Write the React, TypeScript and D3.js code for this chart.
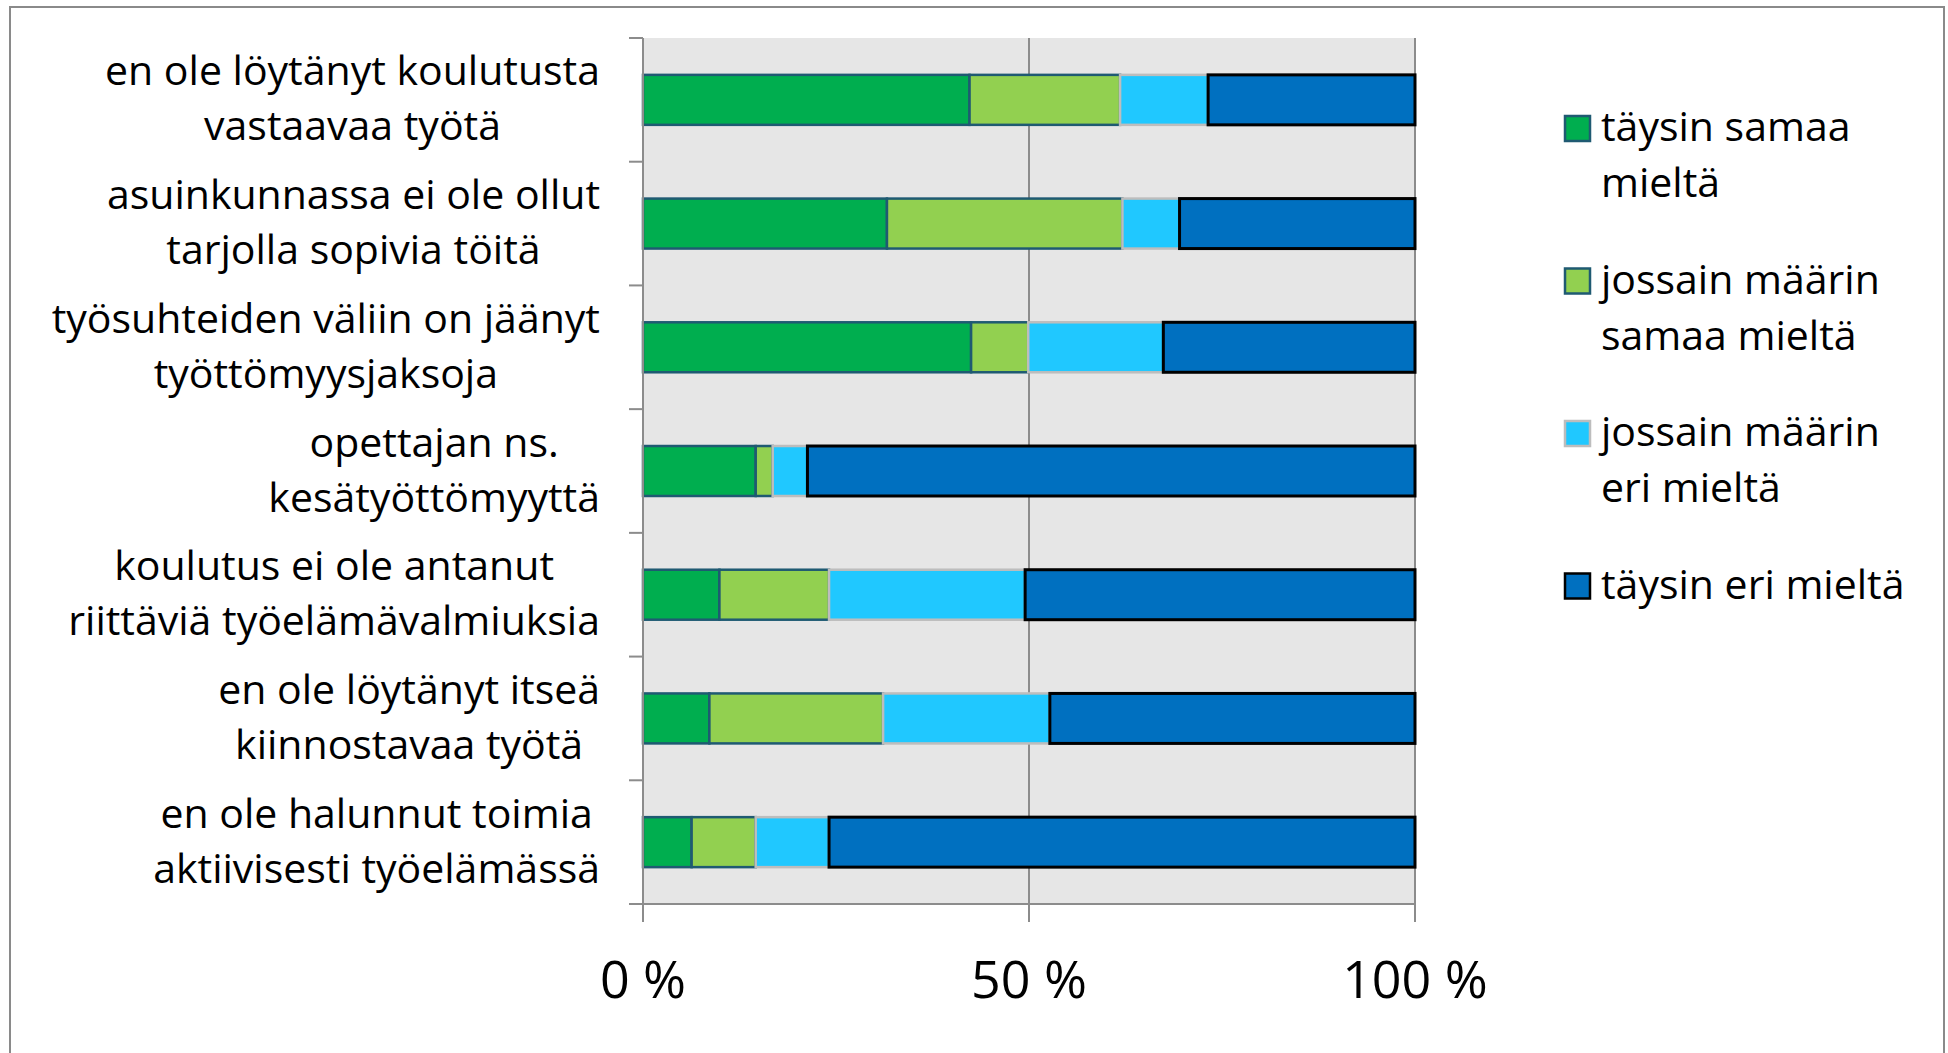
import React, { useEffect, useRef } from 'react';
import * as d3 from 'd3';

// categories, top to bottom (each label split into its two lines)
const categories = [
  ['en ole löytänyt koulutusta', 'vastaavaa työtä'],
  ['asuinkunnassa ei ole ollut', 'tarjolla sopivia töitä'],
  ['työsuhteiden väliin on jäänyt', 'työttömyysjaksoja'],
  ['opettajan ns.', 'kesätyöttömyyttä'],
  ['koulutus ei ole antanut', 'riittäviä työelämävalmiuksia'],
  ['en ole löytänyt itseä', 'kiinnostavaa työtä'],
  ['en ole halunnut toimia', 'aktiivisesti työelämässä'],
];

const seriesNames = [
  ['täysin samaa', 'mieltä'],
  ['jossain määrin', 'samaa mieltä'],
  ['jossain määrin', 'eri mieltä'],
  ['täysin eri mieltä'],
];

// percent shares per category
const taysinSamaa = [42.3, 31.6, 42.5, 14.6, 9.9, 8.6, 6.3];
const jossainSamaa = [19.5, 30.5, 7.4, 2.2, 14.2, 22.5, 8.3];
const jossainEri = [11.4, 7.4, 17.5, 4.5, 25.4, 21.6, 9.5];
const taysinEri = [26.8, 30.5, 32.6, 78.7, 50.5, 47.3, 75.9];

const xTicks = [0, 50, 100];

const fills = ['#00AE4F', '#92D050', '#20C8FF', '#0070C0'];
const strokes = ['#1F5A72', '#1F5A72', '#BDBDBD', '#000000'];
const strokeW = [2.5, 2.5, 2.5, 3];

const FONT = '"Open Sans", "Noto Sans", sans-serif';

export default function App() {
  const svgRef = useRef<SVGSVGElement>(null);

  useEffect(() => {
    document.body.style.margin = '0';
    if (!svgRef.current) return;
    const svg = d3.select(svgRef.current);
    svg.selectAll('*').remove();

    const left = 643, right = 1415, top = 38, bottom = 904;

    svg.append('rect')
      .attr('x', 10).attr('y', 7)
      .attr('width', 1934).attr('height', 1100)
      .attr('fill', '#fff')
      .attr('stroke', '#8a8a8a')
      .attr('stroke-width', 2);

    const keys = ['s1', 's2', 's3', 's4'];
    const rows = categories.map((_, i) => ({
      s1: taysinSamaa[i], s2: jossainSamaa[i], s3: jossainEri[i], s4: taysinEri[i], i,
    }));

    const x = d3.scaleLinear().domain([0, 100]).range([left, right]);
    const y = d3.scaleBand<number>()
      .domain(d3.range(categories.length))
      .range([top, bottom])
      .paddingInner(0.596).paddingOuter(0.298);
    const band = (bottom - top) / categories.length;

    // plot background
    svg.append('rect')
      .attr('x', left).attr('y', top)
      .attr('width', right - left).attr('height', bottom - top)
      .attr('fill', '#E6E6E6');

    // vertical grid lines
    svg.append('g').selectAll('line')
      .data(xTicks.slice(1))
      .join('line')
      .attr('x1', d => x(d)).attr('x2', d => x(d))
      .attr('y1', top).attr('y2', bottom)
      .attr('stroke', '#8c8c8c').attr('stroke-width', 2);

    // bars
    const stacked = d3.stack<any>().keys(keys)(rows);
    stacked.forEach((layer, k) => {
      svg.append('g').selectAll('rect')
        .data(layer)
        .join('rect')
        .attr('x', d => x(d[0]))
        .attr('width', d => x(d[1]) - x(d[0]))
        .attr('y', d => y(d.data.i)!)
        .attr('height', y.bandwidth())
        .attr('fill', fills[k])
        .attr('stroke', strokes[k])
        .attr('stroke-width', strokeW[k]);
    });

    // axes
    const axisColor = '#8c8c8c';
    svg.append('line')
      .attr('x1', left).attr('x2', left).attr('y1', top).attr('y2', bottom + 18)
      .attr('stroke', axisColor).attr('stroke-width', 2);
    svg.append('line')
      .attr('x1', left - 14).attr('x2', right).attr('y1', bottom).attr('y2', bottom)
      .attr('stroke', axisColor).attr('stroke-width', 2);
    svg.append('g').selectAll('line')
      .data(d3.range(categories.length + 1))
      .join('line')
      .attr('x1', left - 14).attr('x2', left)
      .attr('y1', d => top + d * band).attr('y2', d => top + d * band)
      .attr('stroke', axisColor).attr('stroke-width', 2);
    svg.append('g').selectAll('line')
      .data(xTicks)
      .join('line')
      .attr('x1', d => x(d)).attr('x2', d => x(d))
      .attr('y1', bottom).attr('y2', bottom + 18)
      .attr('stroke', axisColor).attr('stroke-width', 2);

    svg.append('g').selectAll('text')
      .data(xTicks)
      .join('text')
      .attr('x', d => x(d)).attr('y', 998)
      .attr('text-anchor', 'middle')
      .style('font-family', FONT).style('font-size', '52px').style('fill', '#000')
      .text(d => `${d} %`);

    // category labels: each block centred, blocks right-aligned to 600
    categories.forEach((lines, i) => {
      const cy = top + band * (i + 0.5);
      const g = svg.append('g');
      const texts = lines.map((ln, j) =>
        g.append('text')
          .attr('y', cy - 14.5 + j * 55)
          .attr('text-anchor', 'middle')
          .style('font-family', FONT).style('font-size', '41px').style('fill', '#000')
          .text(ln));
      const maxW = d3.max(texts, t => (t.node() as SVGTextElement).getComputedTextLength()) || 0;
      texts.forEach(t => t.attr('x', 600 - maxW / 2));
    });

    // legend
    seriesNames.forEach((lines, k) => {
      const base = 141 + k * 152.5;
      svg.append('rect')
        .attr('x', 1565).attr('y', base - 25)
        .attr('width', 25).attr('height', 25)
        .attr('fill', fills[k])
        .attr('stroke', strokes[k])
        .attr('stroke-width', 2.5);
      lines.forEach((ln, j) => {
        svg.append('text')
          .attr('x', 1601).attr('y', base + j * 56)
          .style('font-family', FONT).style('font-size', '41px').style('fill', '#000')
          .text(ln);
      });
    });
  }, []);

  return (
    <svg ref={svgRef} width={1948} height={1053} style={{ display: 'block', background: '#fff' }} />
  );
}
